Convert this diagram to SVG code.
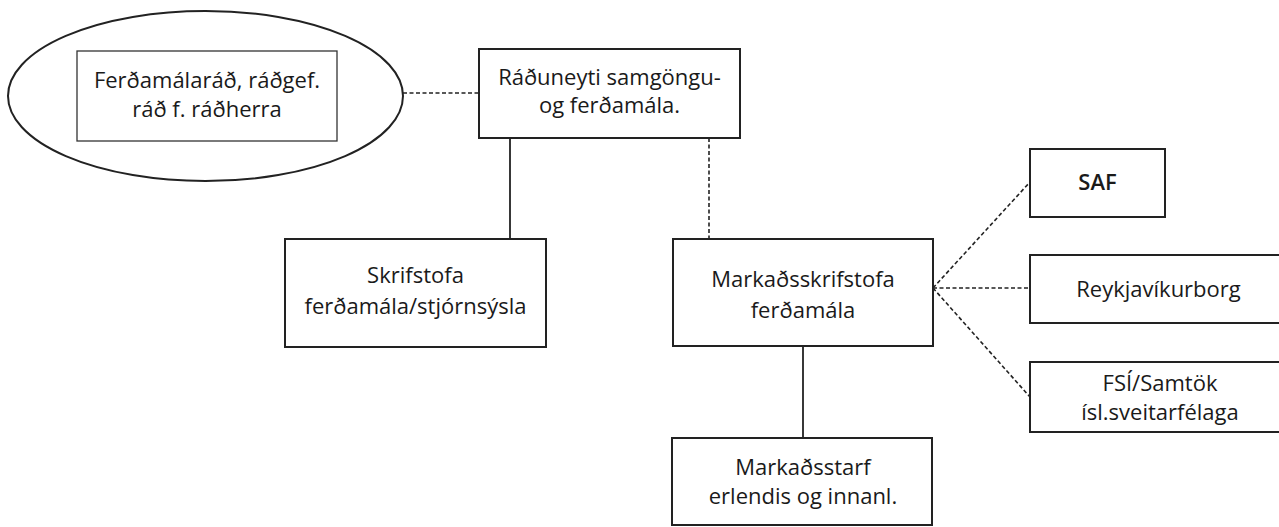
<svg xmlns="http://www.w3.org/2000/svg" width="1279" height="527" viewBox="0 0 1279 527">
<style>
.box{fill:#fff;stroke:#222;stroke-width:2}
.thin{fill:#fff;stroke:#333;stroke-width:1.3}
.t{font-family:"Open Sans","Noto Sans",sans-serif;font-size:22px;font-weight:500;fill:#1a1a1a;text-anchor:middle}
.b{font-weight:600}
.solid{stroke:#222;stroke-width:1.8;fill:none}
.dash{stroke:#222;stroke-width:1.6;fill:none;stroke-dasharray:4 2.5}
</style>
<rect width="1279" height="527" fill="#fff"/>
<g id="connectors">
<line class="dash" x1="403" y1="93" x2="479" y2="93"/>
<line class="solid" x1="510" y1="138" x2="510" y2="239"/>
<line class="dash" x1="709" y1="138" x2="709" y2="239"/>
<line class="solid" x1="803" y1="346" x2="803" y2="438"/>
<line class="dash" x1="933" y1="288" x2="1030" y2="182"/>
<line class="dash" x1="933" y1="288" x2="1030" y2="288"/>
<line class="dash" x1="933" y1="288" x2="1030" y2="397"/>
</g>
<g id="ferdamalarad">
<ellipse cx="205.5" cy="96" rx="197.5" ry="85" fill="#fff" stroke="#222" stroke-width="2"/>
<rect class="thin" x="77" y="51" width="260" height="90"/>
<text class="t" x="207" y="88">Ferðamálaráð, ráðgef.</text>
<text class="t" x="207" y="117">ráð f. ráðherra</text>
</g>
<g id="raduneyti">
<rect class="box" x="479" y="49" width="261" height="89"/>
<text class="t" x="609.5" y="85">Ráðuneyti samgöngu-</text>
<text class="t" x="609.5" y="113">og ferðamála.</text>
</g>
<g id="skrifstofa">
<rect class="box" x="285" y="239" width="261" height="108"/>
<text class="t" x="415.5" y="283">Skrifstofa</text>
<text class="t" x="415.5" y="314">ferðamála/stjórnsýsla</text>
</g>
<g id="markadsskrifstofa">
<rect class="box" x="673" y="239" width="260" height="107"/>
<text class="t" x="803" y="287">Markaðsskrifstofa</text>
<text class="t" x="803" y="318">ferðamála</text>
</g>
<g id="saf">
<rect class="box" x="1030" y="149" width="135" height="68"/>
<text class="t b" x="1097.5" y="190">SAF</text>
</g>
<g id="reykjavikurborg">
<rect class="box" x="1030" y="255" width="257" height="68"/>
<text class="t" x="1158.5" y="297">Reykjavíkurborg</text>
</g>
<g id="fsi">
<rect class="box" x="1030" y="362" width="257" height="70"/>
<text class="t" x="1160" y="391">FSÍ/Samtök</text>
<text class="t" x="1160" y="420">ísl.sveitarfélaga</text>
</g>
<g id="markadsstarf">
<rect class="box" x="672" y="438" width="260" height="87"/>
<text class="t" x="803" y="475">Markaðsstarf</text>
<text class="t" x="803" y="504">erlendis og innanl.</text>
</g>
</svg>
